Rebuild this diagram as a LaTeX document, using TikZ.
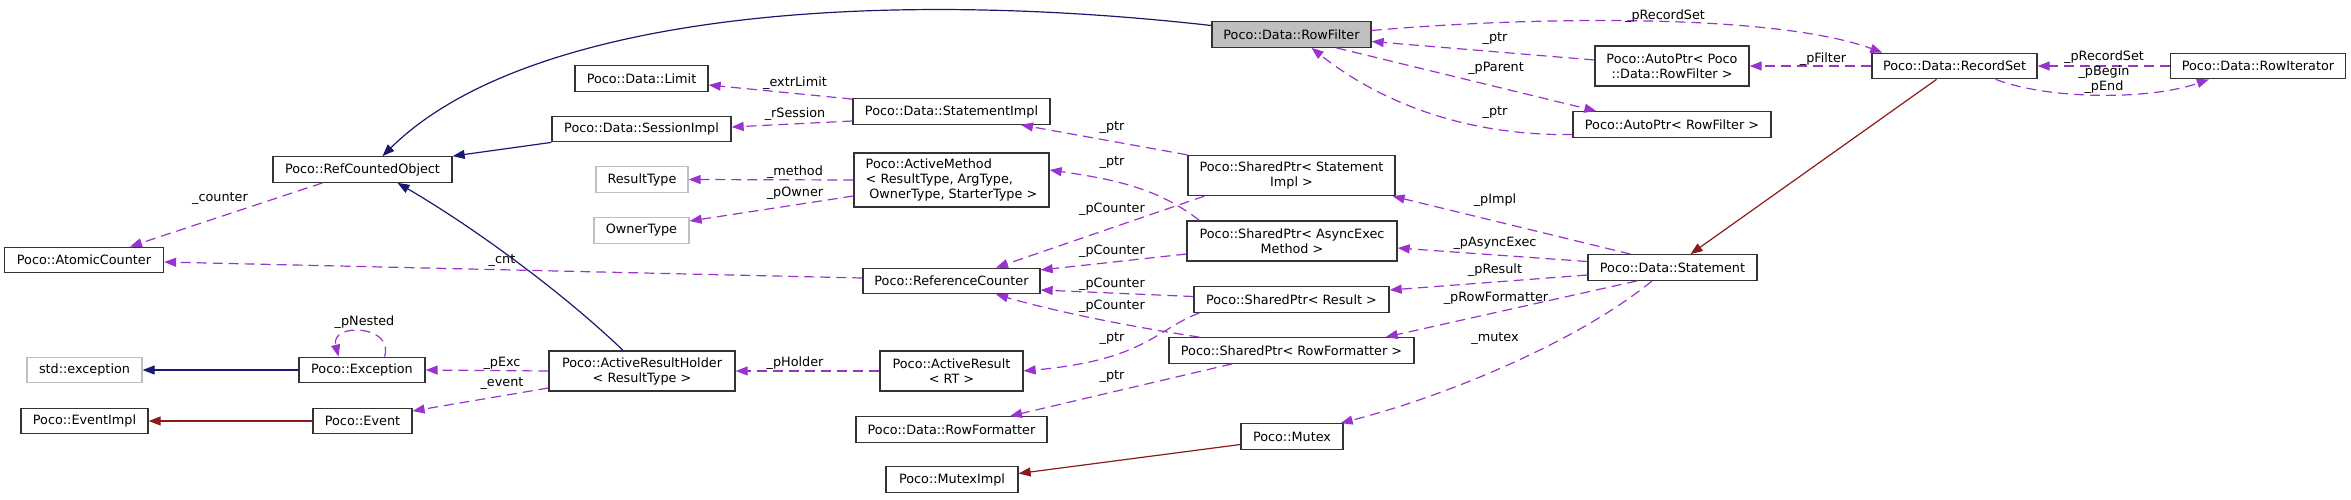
\documentclass[tikz,border=0pt]{standalone}
\usepackage{fontspec}
\setmainfont{DejaVu Sans}
\usetikzlibrary{arrows.meta,calc}
\definecolor{inhblue}{HTML}{191970}
\definecolor{privred}{HTML}{8B1A1A}
\definecolor{usepurple}{HTML}{9A32CD}
\definecolor{graybox}{HTML}{BFBFBF}
\begin{document}
\begin{tikzpicture}[x=1pt,y=-1pt,
  cls/.style={draw=black!80, line width=1.3pt, fill=white, inner sep=0pt, minimum height=25.5pt, font=\fontsize{12.8}{15}\selectfont, align=center},
  ext/.style={cls, draw=graybox},
  lbl/.style={inner sep=0pt, font=\fontsize{12.8}{15}\selectfont, align=center},
  inh/.style={color=inhblue, line width=1.2pt, -{Triangle[length=12pt,width=9pt]}},
  priv/.style={color=privred, line width=1.2pt, -{Triangle[length=12pt,width=9pt]}},
  usedge/.style={color=usepurple, line width=1.2pt, dash pattern=on 10pt off 6pt, -{Triangle[length=12pt,width=9pt]}}]
\useasboundingbox (0,0) rectangle (2351,499);
% nodes
\node[cls, fill=graybox, minimum width=159pt] (rf) at (1291.5,34.5) {Poco::Data::RowFilter};
\node[cls, minimum width=179pt] (rco) at (362.5,169.5) {Poco::RefCountedObject};
\node[cls, minimum width=159pt] (ac) at (84,260) {Poco::AtomicCounter};
\node[cls, minimum width=133pt] (lim) at (641.5,78.5) {Poco::Data::Limit};
\node[cls, minimum width=179pt] (si) at (641.5,129) {Poco::Data::SessionImpl};
\node[cls, minimum width=197pt] (sti) at (951.5,111.5) {Poco::Data::StatementImpl};
\node[ext, minimum width=92pt] (rt) at (642,179.5) {ResultType};
\node[cls, minimum width=195pt, minimum height=54pt, align=left] (am) at (951.5,180) {Poco::ActiveMethod\\< ResultType, ArgType,\\\hspace*{3.6pt}OwnerType, StarterType >};
\node[ext, minimum width=95pt] (ot) at (641.5,230.5) {OwnerType};
\node[cls, minimum width=154pt, minimum height=40pt] (ap1) at (1672,66) {Poco::AutoPtr< Poco\\::Data::RowFilter >};
\node[cls, minimum width=198pt] (ap2) at (1672,124.5) {Poco::AutoPtr< RowFilter >};
\node[cls, minimum width=165pt] (rs) at (1954.5,66) {Poco::Data::RecordSet};
\node[cls, minimum width=175pt] (ri) at (2258,66) {Poco::Data::RowIterator};
\node[cls, minimum width=207pt, minimum height=40pt] (spsi) at (1291.5,175.5) {Poco::SharedPtr< Statement\\Impl >};
\node[cls, minimum width=210pt, minimum height=40pt] (spae) at (1292,241) {Poco::SharedPtr< AsyncExec\\Method >};
\node[cls, minimum width=169pt] (stmt) at (1672.5,267.5) {Poco::Data::Statement};
\node[cls, minimum width=195pt] (spr) at (1291.5,299.5) {Poco::SharedPtr< Result >};
\node[cls, minimum width=245pt] (sprf) at (1291.5,350.5) {Poco::SharedPtr< RowFormatter >};
\node[cls, minimum width=102pt] (mtx) at (1292,436.5) {Poco::Mutex};
\node[cls, minimum width=177pt] (rc) at (951.5,281) {Poco::ReferenceCounter};
\node[cls, minimum width=143pt, minimum height=40pt] (ar) at (951.5,371) {Poco::ActiveResult\\< RT >};
\node[cls, minimum width=191pt] (rfm) at (951.5,429.5) {Poco::Data::RowFormatter};
\node[cls, minimum width=132pt] (mi) at (952,479.5) {Poco::MutexImpl};
\node[cls, minimum width=186pt, minimum height=40pt] (arh) at (642,371) {Poco::ActiveResultHolder\\< ResultType >};
\node[cls, minimum width=126pt] (exc) at (362,370) {Poco::Exception};
\node[cls, minimum width=99pt] (ev) at (362.5,421) {Poco::Event};
\node[ext, minimum width=115pt] (stde) at (84.5,370) {std::exception};
\node[cls, minimum width=127pt] (evi) at (84.5,421) {Poco::EventImpl};
% inheritance
\draw[inh] ($(rf.west)+(0,-9)$) .. controls (850,-15) and (520,20) .. ($(rco.north)+(20,0)$);
\draw[inh] (si.south west) -- (rco.north east);
\draw[inh] ($(arh.north)+(-19,0)$) .. controls (560,290) and (470,225) .. ($(rco.south)+(35,0)$);
\draw[inh] (exc.west) -- (stde.east);
\draw[priv] (ev.west) -- (evi.east);
\draw[priv] ($(rs.south)+(-18,0)$) -- ($(stmt.north)+(18,0)$);
\draw[priv] ($(mtx.west)+(0,8)$) -- ($(mi.east)+(0,-6)$);
% usage
\draw[usedge] ($(rco.south)+(-40,0)$) -- ($(ac.north)+(46,0)$);
\node[lbl] (l1) at (220,199) {\_counter};
\draw[usedge] ($(rc.west)+(0,-3)$) -- ($(ac.east)+(0,2)$);
\node[lbl] (l2) at (502,261) {\_cnt};
\draw[usedge] ($(sti.north west)+(0,1)$) -- ($(lim.east)+(0,6.5)$);
\node[lbl] (l3) at (795,83) {\_extrLimit};
\draw[usedge] ($(sti.west)+(0,9.5)$) -- ($(si.east)+(0,-2)$);
\node[lbl] (l4) at (795,114) {\_rSession};
\draw[usedge] (am.west) -- (rt.east);
\node[lbl] (l5) at (795,172) {\_method};
\draw[usedge] ($(am.west)+(0,16)$) -- ($(ot.east)+(0,-9.5)$);
\node[lbl] (l6) at (795,193) {\_pOwner};
\draw[usedge] (spsi.north west) -- ($(sti.south)+(69.5,0)$);
\node[lbl] (l7) at (1112,128) {\_ptr};
\draw[usedge] ($(spae.north west)+(13,0)$) .. controls (1160,190) and (1120,180) .. ($(am.east)+(0,-10)$);
\node[lbl] (l8) at (1112,163) {\_ptr};
\draw[usedge] ($(spsi.south west)+(17,0)$) -- ($(rc.north)+(44.5,0)$);
\node[lbl] (l9) at (1112,209) {\_pCounter};
\draw[usedge] ($(spae.west)+(0,13)$) -- ($(rc.east)+(0,-11)$);
\node[lbl] (l10) at (1112,251) {\_pCounter};
\draw[usedge] ($(spr.west)+(0,-3)$) -- ($(rc.east)+(0,9)$);
\node[lbl] (l11) at (1112,284) {\_pCounter};
\draw[usedge] ($(sprf.north west)+(31,0)$) .. controls (1120,325) and (1050,310) .. ($(rc.south)+(44.5,0)$);
\node[lbl] (l12) at (1112,306) {\_pCounter};
\draw[usedge] ($(spr.south west)+(6,0)$) .. controls (1155,330) and (1145,360) .. (ar.east);
\node[lbl] (l13) at (1112,339) {\_ptr};
\draw[usedge] ($(sprf.south)+(-59.5,0)$) -- ($(rfm.north)+(58.5,0)$);
\node[lbl] (l14) at (1112,377) {\_ptr};
\draw[usedge] ($(stmt.north)+(-42,0)$) -- ($(spsi.south east)+(-3,0)$);
\node[lbl] (l15) at (1495,200) {\_pImpl};
\draw[usedge] ($(stmt.west)+(0,-6)$) -- ($(spae.east)+(0,7)$);
\node[lbl] (l16) at (1495,243) {\_pAsyncExec};
\draw[usedge] ($(stmt.west)+(0,7.5)$) -- ($(spr.east)+(0,-9.5)$);
\node[lbl] (l17) at (1495,270) {\_pResult};
\draw[usedge] ($(stmt.south)+(-35.5,0)$) -- ($(sprf.north east)+(-29,0)$);
\node[lbl] (l18) at (1496,298) {\_pRowFormatter};
\draw[usedge] ($(stmt.south)+(-20.5,0)$) .. controls (1580,340) and (1450,395) .. ($(mtx.north east)+(-3,0)$);
\node[lbl] (l19) at (1495,339) {\_mutex};
\draw[usedge] ($(rf.east)+(0,-4)$) .. controls (1550,15) and (1780,15) .. ($(rs.north west)+(11,0)$);
\node[lbl] (l20) at (1665,16) {\_pRecordSet};
\draw[usedge] ($(ap1.west)+(0,-6)$) -- ($(rf.east)+(0,7)$);
\node[lbl] (l21) at (1495,39) {\_ptr};
\draw[usedge] ($(rf.south)+(45,0)$) -- ($(ap2.north west)+(24,0)$);
\node[lbl] (l22) at (1496,68) {\_pParent};
\draw[usedge] ($(ap2.west)+(0,10)$) .. controls (1480,136) and (1390,110) .. ($(rf.south)+(20,0)$);
\node[lbl] (l23) at (1495,113) {\_ptr};
\draw[usedge] (rs.west) -- (ap1.east);
\node[lbl] (l24) at (1823,59) {\_pFilter};
\draw[usedge] (ri.west) -- (rs.east);
\node[lbl] (l25) at (2104,57) {\_pRecordSet};
\draw[usedge] ($(rs.south east)+(-42,0)$) .. controls (2050,100) and (2150,100) .. ($(ri.south west)+(39,0)$);
\node[lbl] (l26) at (2104,79.5) {\_pBegin\\\_pEnd};
\draw[usedge] ($(exc.north)+(22.5,0)$) .. controls (395,325) and (330,322) .. ($(exc.north)+(-23.5,0)$);
\node[lbl] (l27) at (364.5,322) {\_pNested};
\draw[usedge] (arh.west) -- (exc.east);
\node[lbl] (l28) at (502,363) {\_pExc};
\draw[usedge] ($(arh.west)+(0,17)$) -- ($(ev.east)+(0,-10)$);
\node[lbl] (l29) at (502,384) {\_event};
\draw[usedge] (ar.west) -- (arh.east);
\node[lbl] (l30) at (795,363) {\_pHolder};
\end{tikzpicture}
\end{document}
